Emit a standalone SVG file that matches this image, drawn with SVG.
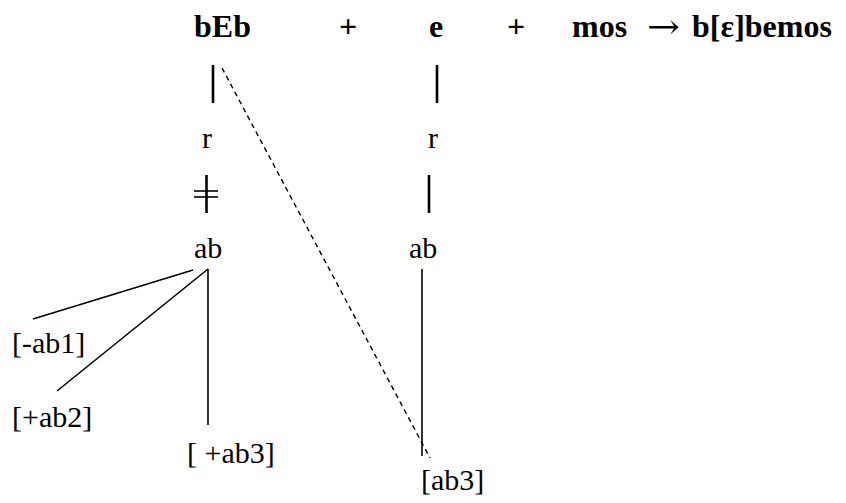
<svg xmlns="http://www.w3.org/2000/svg" width="846" height="503" viewBox="0 0 846 503">
<defs>
<style>
text{font-family:'Liberation Serif','DejaVu Serif',serif;fill:#000}
.b{font-weight:bold;font-size:32px}
.t{font-size:30px}
.arrow{font-family:'DejaVu Serif','Liberation Serif',serif;font-size:34px}
.thick{stroke:#000;stroke-width:2.6;fill:none}
.thin{stroke:#000;stroke-width:1.6;fill:none}
.dash{stroke:#000;stroke-width:1.4;stroke-dasharray:5 4;fill:none}
</style>
</defs>
<rect width="846" height="503" fill="#fff"/>
<g id="equation">
<text class="b" x="194" y="37">bEb</text>
<text class="b" x="339" y="37">+</text>
<text class="b" x="429" y="37">e</text>
<text class="b" x="507" y="37">+</text>
<text class="b" x="572" y="37">mos</text>
<text class="arrow" x="647" y="38" textLength="33" lengthAdjust="spacingAndGlyphs">→</text>
<text class="b" x="692" y="37">b[ε]bemos</text>
</g>
<g id="node-r-left"><text class="t" x="202" y="148">r</text></g>
<g id="node-r-right"><text class="t" x="428" y="148">r</text></g>
<g id="node-ab-left"><text class="t" x="194" y="258">ab</text></g>
<g id="node-ab-right"><text class="t" x="409" y="258">ab</text></g>
<g id="node-ab1"><text class="t" x="12" y="353">[-ab1]</text></g>
<g id="node-ab2"><text class="t" x="12" y="427">[+ab2]</text></g>
<g id="node-ab3-left"><text class="t" x="187" y="463">[ +ab3]</text></g>
<g id="node-ab3-right"><text class="t" x="421" y="490">[ab3]</text></g>
<g id="connectors">
<line class="thick" x1="213" y1="65" x2="213" y2="103"/>
<line class="thick" x1="437" y1="65" x2="437" y2="103"/>
<line class="thick" x1="206.5" y1="175" x2="206.5" y2="213"/>
<line class="thin" x1="194" y1="191" x2="218" y2="191"/>
<line class="thin" x1="194" y1="197" x2="218" y2="197"/>
<line class="thick" x1="429" y1="175" x2="429" y2="213"/>
<line class="thin" x1="33" y1="319" x2="193" y2="270"/>
<line class="thin" x1="57" y1="391" x2="208" y2="269"/>
<line class="thin" x1="208" y1="269" x2="208" y2="425"/>
<line class="thin" x1="422" y1="269" x2="422" y2="456"/>
<line class="dash" x1="222" y1="68" x2="430" y2="458"/>
</g>
</svg>
